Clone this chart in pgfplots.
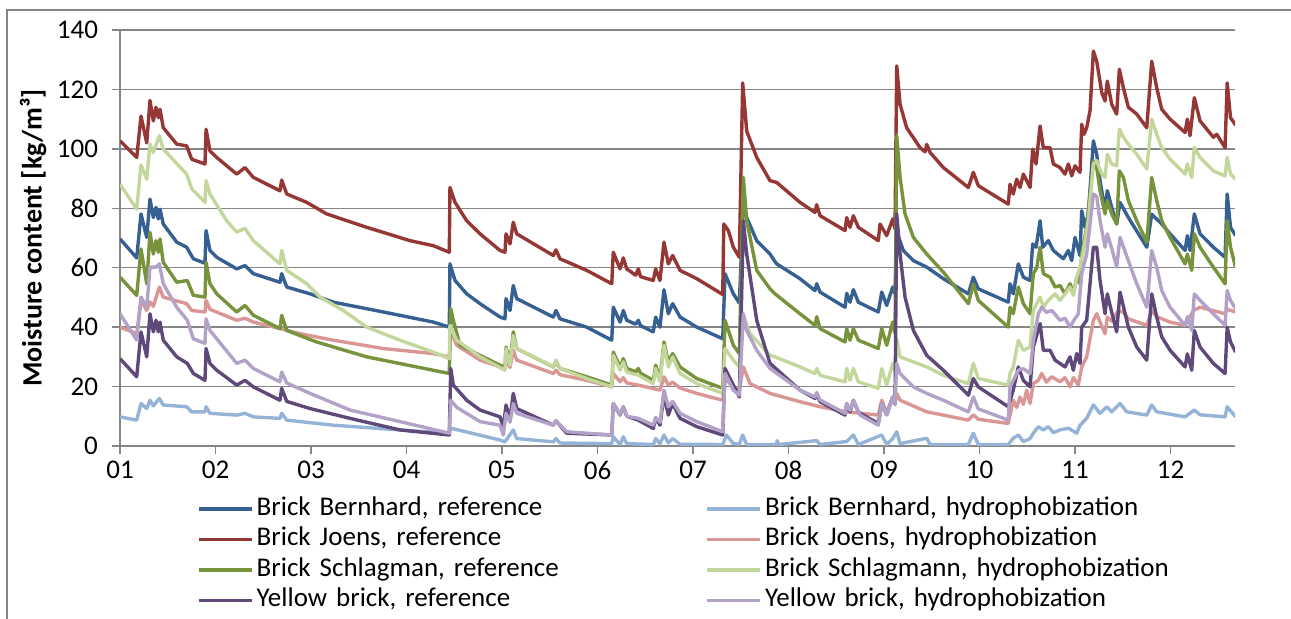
\documentclass[border=0pt]{standalone}
\usepackage{pgfplots}
\pgfplotsset{compat=1.18}
\usepackage{fontspec}
\setmainfont{Carlito}

\definecolor{bbref}{HTML}{376092}
\definecolor{bbhyd}{HTML}{95B3D7}
\definecolor{bjref}{HTML}{953735}
\definecolor{bjhyd}{HTML}{D99694}
\definecolor{bsref}{HTML}{77933C}
\definecolor{bshyd}{HTML}{C3D69B}
\definecolor{ybref}{HTML}{5F497A}
\definecolor{ybhyd}{HTML}{B3A2C7}
\definecolor{gridgray}{HTML}{868686}

\begin{document}
\begin{tikzpicture}[font=\fontsize{13.5}{16}\selectfont]
\path[use as bounding box] (-60pt,-86.5pt) rectangle (585.5pt,223pt);
\begin{axis}[
    scale only axis, width=557.5pt, height=208pt,
    xmin=1, xmax=12.675, ymin=0, ymax=140,
    xtick={1,2,...,12},
    xticklabels={01,02,03,04,05,06,07,08,09,10,11,12},
    ytick={0,20,...,140},
    yticklabel style={xshift=-3.5pt},
    axis x line*=bottom, axis y line*=left,
    axis line style={draw=gridgray, line width=0.75pt},
    tick align=outside, major tick length=4pt,
    tick style={draw=gridgray, line width=0.75pt},
    ymajorgrids, grid style={draw=gridgray, line width=0.75pt},
    /pgf/number format/assume math mode=true,
    ylabel={\fontsize{14}{16}\selectfont\bfseries Moisture content [kg/m³]},
    ylabel style={at={(axis description cs:-0.078,0.5)}, anchor=center},
    legend columns=2,
    legend style={at={(axis description cs:0.069,-0.114)}, anchor=north west,
        draw=none, fill=none, inner sep=0pt,
        nodes={text width=223pt, align=left, text height=9.2pt, text depth=3pt, inner sep=1.5pt}},
    legend image code/.code={\draw[#1, line width=1.7pt] (0pt,0pt) -- (26.5pt,0pt);},
    every axis plot/.append style={line width=1.7pt, line join=round, no markers},
]
% Brick Bernhard, reference
\addplot[bbref] coordinates {
(1.000,69.7) (1.175,63.3) (1.220,78.1) (1.280,70.2) (1.314,83.1) (1.349,76.9) (1.377,80.3) (1.401,76.4) (1.419,79.7) (1.453,74.7)
(1.594,68.6) (1.698,66.9) (1.768,63) (1.890,61.5) (1.901,72.5) (1.942,65.8) (2.013,63.5) (2.222,59.6) (2.309,60.7) (2.396,58)
(2.675,55.1) (2.693,58) (2.746,53.5) (2.990,51.2) (3.234,48.4) (3.757,45.1) (4.281,41.7) (4.448,40) (4.455,61.3) (4.508,55.7)
(4.630,51.2) (4.770,47.9) (4.979,43.4) (5.031,42.8) (5.042,49.6) (5.084,45.6) (5.118,54) (5.154,49.6) (5.537,43.4) (5.565,45.6)
(5.607,42.8) (5.887,40) (6.149,35.6) (6.165,46.7) (6.236,41.7) (6.270,45.6) (6.306,42.3) (6.400,41) (6.427,42.3) (6.450,40.5)
(6.584,38.4) (6.609,43.4) (6.654,40) (6.696,52.6) (6.741,44.5) (6.787,47.9) (6.864,43.4) (7.039,40) (7.311,36.1) (7.335,58)
(7.422,51.2) (7.485,48.1) (7.527,82) (7.562,76.9) (7.667,69.1) (7.806,64.6) (7.859,62) (7.876,61.3) (8.120,56.3) (8.277,52.3)
(8.295,54.6) (8.330,51.8) (8.592,46.7) (8.609,51.4) (8.644,48.4) (8.679,52.6) (8.731,48.4) (8.940,45.1) (8.976,51.8) (9.028,47.3)
(9.091,53.5) (9.115,51.2) (9.133,72) (9.202,65.8) (9.307,62.4) (9.447,60.2) (9.621,56.3) (9.883,51.2) (9.935,56.8) (9.987,52.9)
(10.301,48.4) (10.319,54.6) (10.353,51.2) (10.406,61.3) (10.459,56.8) (10.529,55.7) (10.557,68) (10.592,66.9) (10.634,75.8) (10.662,66.9)
(10.720,69.1) (10.773,65.8) (10.877,63) (10.930,65.8) (10.965,62.4) (11.000,70.2) (11.052,64.1) (11.070,79.2) (11.105,73.6) (11.139,78.1)
(11.192,102.7) (11.227,98.2) (11.262,89.3) (11.314,79.2) (11.338,85.9) (11.384,80.3) (11.436,74.7) (11.471,82) (11.558,76.9) (11.751,66.9)
(11.803,78) (11.908,74.7) (11.995,71.4) (12.152,65.8) (12.176,70.8) (12.204,65.8) (12.249,78.1) (12.309,71.4) (12.448,66.9) (12.571,63.5)
(12.593,84.8) (12.628,73.6) (12.681,70.8)
};
\addlegendentry{Brick Bernhard, reference}
% Brick Bernhard, hydrophobization
\addplot[bbhyd] coordinates {
(1.000,9.8) (1.175,8.7) (1.220,14.3) (1.280,12.6) (1.314,15.4) (1.349,13.5) (1.412,16) (1.453,13.8) (1.698,13.2) (1.751,11.5)
(1.890,11.5) (1.901,13.2) (1.942,11) (2.222,10.4) (2.309,11) (2.396,9.8) (2.675,9.3) (2.693,11) (2.746,8.7) (3.234,7)
(3.932,5.4) (4.448,4.3) (4.463,6) (4.979,2) (5.031,1.4) (5.118,5.4) (5.154,2.5) (5.537,1.4) (5.565,2.5) (5.607,1)
(6.149,0.8) (6.165,3.1) (6.236,0.5) (6.270,3.1) (6.306,0.8) (6.584,0.5) (6.609,2.5) (6.654,0.8) (6.696,3.7) (6.741,1)
(6.787,2.5) (6.864,0.6) (7.311,0.5) (7.350,3.7) (7.422,0.8) (7.485,0.6) (7.520,3.7) (7.562,0.5) (7.876,0.5) (7.880,1.8)
(7.900,0.5) (8.295,1.8) (8.330,0.5) (8.609,1.5) (8.679,3.7) (8.731,0.5) (8.976,3.7) (9.028,0.5) (9.091,2.5) (9.133,4.8)
(9.168,0.8) (9.447,2.6) (9.482,0.5) (9.883,0.5) (9.935,4.3) (9.987,0.5) (10.301,0.5) (10.353,2.6) (10.406,3.7) (10.459,1.5)
(10.529,2.5) (10.563,4.3) (10.616,6.5) (10.668,5.4) (10.720,6.5) (10.773,4.5) (10.843,5.4) (10.930,6) (11.018,4.3) (11.052,7)
(11.122,9.3) (11.192,13.8) (11.262,11) (11.332,13.2) (11.384,11.5) (11.471,14.3) (11.541,11.5) (11.751,10.4) (11.803,13.8) (11.855,11.5)
(12.152,9.8) (12.249,12.1) (12.309,10.5) (12.571,9.8) (12.593,13.2) (12.681,9.8)
};
\addlegendentry{Brick Bernhard, hydrophobization}
% Brick Joens, reference
\addplot[bjref] coordinates {
(1.000,102.7) (1.175,97.1) (1.220,111) (1.280,102) (1.314,116.3) (1.349,109.4) (1.377,114) (1.401,110.5) (1.419,113.3) (1.453,107.1)
(1.594,101.6) (1.698,101) (1.751,96.5) (1.890,94.9) (1.901,106.6) (1.942,99.3) (2.013,97.1) (2.222,91.5) (2.309,93.7) (2.396,90.4)
(2.675,85.9) (2.693,89.5) (2.746,84.8) (2.955,82) (3.164,78.1) (3.583,73.6) (4.037,69.1) (4.281,67.4) (4.448,65.2) (4.455,87)
(4.508,82) (4.630,75.8) (4.770,71.4) (4.979,65.8) (5.031,65.2) (5.042,71.4) (5.084,68) (5.118,75.3) (5.154,71.4) (5.537,64.1)
(5.565,66) (5.607,63) (5.887,59.1) (6.149,54.6) (6.165,65.2) (6.236,59.6) (6.270,63.3) (6.306,59.6) (6.400,57.5) (6.427,59.6)
(6.450,57) (6.584,55.7) (6.609,59.6) (6.654,55.7) (6.696,68.6) (6.741,61.3) (6.787,64.1) (6.864,59.1) (7.039,56.3) (7.311,51)
(7.322,74.7) (7.370,72.5) (7.422,66.9) (7.485,63.5) (7.520,122.2) (7.562,106) (7.667,97.1) (7.806,89.3) (7.876,88.7) (8.120,82)
(8.277,78.6) (8.295,81.2) (8.330,77.5) (8.592,72.5) (8.609,76.9) (8.644,73.6) (8.679,77.5) (8.731,73.6) (8.940,69.1) (8.958,74.7)
(9.028,70.8) (9.091,76.4) (9.115,73) (9.133,127.9) (9.168,115) (9.237,107.1) (9.377,100.4) (9.430,99) (9.447,101.5) (9.482,98.8)
(9.621,93.7) (9.883,87) (9.935,92.1) (9.987,87.6) (10.301,81.4) (10.319,88.1) (10.353,84.8) (10.389,89.8) (10.424,87) (10.459,91.5)
(10.529,87) (10.557,99.9) (10.592,94.9) (10.634,107.7) (10.668,100.4) (10.738,100.4) (10.773,94.9) (10.843,93.7) (10.895,91.5) (10.930,94.9)
(10.965,90.9) (11.000,94.3) (11.052,92.1) (11.070,108.3) (11.094,104.9) (11.122,107.1) (11.157,112.8) (11.192,132.9) (11.227,129.5) (11.280,118.9)
(11.314,116.1) (11.338,122.8) (11.384,115) (11.436,111.7) (11.464,126.8) (11.506,120.6) (11.558,114) (11.646,111.7) (11.751,107.1) (11.803,129.5)
(11.855,120.6) (11.908,113.3) (11.995,110) (12.152,105.5) (12.176,110) (12.204,104.4) (12.249,117.2) (12.309,109.4) (12.448,103.9) (12.484,104.9)
(12.571,100.4) (12.593,122.2) (12.628,110.5) (12.681,108)
};
\addlegendentry{Brick Joens, reference}
% Brick Joens, hydrophobization
\addplot[bjhyd] coordinates {
(1.000,40) (1.175,37.8) (1.220,49) (1.280,45.6) (1.314,48.5) (1.349,47) (1.412,53.5) (1.453,50.1) (1.698,47.9) (1.751,45.6)
(1.890,45.1) (1.901,49) (1.942,46) (2.222,42.3) (2.309,43) (2.396,41.7) (2.675,39.5) (2.885,37.8) (3.234,35.6) (3.757,32.8)
(4.281,31.1) (4.448,30) (4.463,38.9) (4.526,33.9) (4.770,28.9) (4.979,26.6) (5.031,26.1) (5.042,28.5) (5.084,26.5) (5.118,32.2)
(5.154,28.9) (5.537,24.4) (5.565,25.5) (5.607,24) (5.887,22.1) (6.149,19.9) (6.165,24.4) (6.236,21.6) (6.270,23) (6.306,21.2)
(6.427,20.5) (6.654,18.8) (6.696,23.3) (6.741,20.5) (6.787,21.5) (6.864,19.5) (7.039,17.7) (7.311,15.4) (7.335,22.7) (7.422,20)
(7.485,18.8) (7.527,26.6) (7.597,21) (7.806,17.7) (8.120,14.9) (8.330,13.2) (8.609,11.5) (8.940,10.4) (8.976,15.4) (9.028,11)
(9.091,16.5) (9.115,14) (9.133,17.7) (9.168,15.4) (9.447,11.5) (9.621,10.4) (9.883,8.7) (9.935,10.5) (9.987,9) (10.301,7.6)
(10.353,15.4) (10.389,13) (10.424,16.5) (10.459,14) (10.494,18.8) (10.529,14.3) (10.563,21) (10.616,22.1) (10.651,24.4) (10.700,21.5)
(10.756,23.3) (10.843,21.6) (10.895,23) (10.948,19.9) (10.982,23) (11.034,20.5) (11.070,26.6) (11.122,30) (11.192,42.3) (11.227,44.5)
(11.262,41.7) (11.314,37.8) (11.338,43.4) (11.384,42) (11.453,45.6) (11.506,45) (11.558,42.8) (11.751,40.6) (11.803,45.6) (11.855,43.5)
(11.995,41.7) (12.152,40.6) (12.176,42) (12.239,45.6) (12.309,46.7) (12.571,44.5) (12.593,46) (12.681,45.1)
};
\addlegendentry{Brick Joens, hydrophobization}
% Brick Schlagman, reference
\addplot[bsref] coordinates {
(1.000,56.8) (1.175,50.7) (1.220,66.3) (1.280,54.6) (1.314,71.9) (1.349,64.6) (1.377,69.1) (1.401,65.2) (1.419,69.7) (1.453,61.8)
(1.594,55.1) (1.705,55.7) (1.768,50.7) (1.890,50.1) (1.901,61.8) (1.942,54.6) (2.013,51.2) (2.222,45.1) (2.309,47.3) (2.396,44)
(2.675,39.5) (2.693,44) (2.746,38.9) (3.060,35) (3.583,30) (4.107,26.6) (4.448,24.4) (4.463,46.2) (4.490,42.3) (4.560,33.9)
(4.770,30.5) (4.979,27.2) (5.031,26.6) (5.042,33.3) (5.084,28.3) (5.118,38.4) (5.154,32.8) (5.537,26.6) (5.565,28.5) (5.607,26.1)
(5.887,23.3) (6.149,20.5) (6.165,31.6) (6.236,26.6) (6.270,29.4) (6.306,26.1) (6.400,25) (6.427,26.1) (6.450,24.5) (6.584,22.1)
(6.609,27.2) (6.654,22.7) (6.696,35) (6.741,28.3) (6.787,31.1) (6.864,26.6) (7.039,22.7) (7.311,19.4) (7.335,42.3) (7.422,33.9)
(7.485,31.1) (7.527,90.4) (7.562,75.8) (7.667,59.1) (7.806,52.9) (7.859,51.2) (8.120,44.5) (8.277,40.6) (8.295,43.5) (8.330,39.5)
(8.592,35) (8.609,39.5) (8.644,35.6) (8.679,39.5) (8.731,35.6) (8.940,32.8) (8.976,39.5) (9.028,33.9) (9.091,41.7) (9.115,38)
(9.133,104.4) (9.168,90.4) (9.220,78.1) (9.307,70.2) (9.447,64.6) (9.621,58.5) (9.883,47.9) (9.935,54.6) (9.987,49) (10.301,40)
(10.319,46.7) (10.353,44.5) (10.406,53.5) (10.459,47.9) (10.529,44.5) (10.563,58) (10.599,60) (10.634,66.9) (10.668,58) (10.738,56.8)
(10.791,53.5) (10.843,54) (10.895,51.2) (10.948,54.6) (10.982,51.2) (11.018,56.8) (11.052,54.6) (11.070,64.6) (11.122,73.6) (11.192,96)
(11.227,93.7) (11.262,85.9) (11.314,78.1) (11.338,82.6) (11.384,78.1) (11.436,74.7) (11.464,92.6) (11.506,90.4) (11.558,82.6) (11.646,75.8)
(11.751,68.6) (11.803,90.4) (11.855,82.6) (11.908,75.8) (11.995,70.2) (12.152,61.3) (12.176,64.6) (12.222,59.1) (12.249,71.4) (12.309,66.9)
(12.448,60.2) (12.571,54.6) (12.593,75.8) (12.628,66.9) (12.681,60.2)
};
\addlegendentry{Brick Schlagman, reference}
% Brick Schlagmann, hydrophobization
\addplot[bshyd] coordinates {
(1.000,88.1) (1.175,79.7) (1.220,94.6) (1.280,89.8) (1.314,101.6) (1.349,98.8) (1.412,104.4) (1.453,99.9) (1.698,91.5) (1.751,86.5)
(1.890,82) (1.901,89.3) (1.942,84.8) (2.117,75.8) (2.222,72) (2.309,73.2) (2.396,69.1) (2.675,61.3) (2.693,65.8) (2.746,59.1)
(2.955,54.6) (3.094,50.1) (3.338,45.6) (3.583,40) (3.932,35.6) (4.281,31.6) (4.448,29.4) (4.455,40.6) (4.526,35.6) (4.770,30)
(5.031,25.5) (5.042,32.8) (5.084,27.2) (5.118,37.2) (5.154,32.8) (5.537,26.6) (5.565,28.9) (5.607,26.1) (5.887,22.7) (6.149,19.9)
(6.165,30.5) (6.236,25.5) (6.270,28.3) (6.306,24.9) (6.427,23.8) (6.584,21) (6.609,26.1) (6.654,21.6) (6.696,33.9) (6.741,26.6)
(6.787,30) (6.864,24.4) (7.039,21) (7.311,17.7) (7.335,32.8) (7.422,28.9) (7.485,26.6) (7.527,44) (7.597,37.8) (7.806,30.5)
(7.859,30) (8.120,26.6) (8.277,24.4) (8.295,26.1) (8.330,23.8) (8.592,21.6) (8.609,26.1) (8.644,22.1) (8.679,26.1) (8.731,21.6)
(8.940,19.4) (8.976,26.1) (9.028,20.5) (9.091,27.8) (9.115,25) (9.133,36) (9.168,30) (9.447,26.6) (9.621,23.8) (9.883,21)
(9.935,27.8) (9.987,22.7) (10.301,20.5) (10.319,24.4) (10.353,26.6) (10.406,35.6) (10.459,32.2) (10.529,33.3) (10.563,45.6) (10.599,47.9)
(10.634,50.1) (10.668,46.7) (10.720,49) (10.791,51.2) (10.843,49) (10.895,51.2) (10.948,53.5) (10.982,50.7) (11.018,56.8) (11.052,60.2)
(11.087,65.8) (11.139,75.8) (11.192,94.9) (11.227,96) (11.280,91.5) (11.314,90.4) (11.338,98.2) (11.384,94.9) (11.436,94.3) (11.464,106.6)
(11.506,103.9) (11.558,101.6) (11.646,98.2) (11.751,93.2) (11.803,110) (11.855,104.9) (11.908,100.4) (11.995,96.5) (12.152,91.5) (12.176,94.9)
(12.222,90.4) (12.249,100.4) (12.309,97.1) (12.448,92.6) (12.571,90.9) (12.593,97.1) (12.628,91.5) (12.681,89.8)
};
\addlegendentry{Brick Schlagmann, hydrophobization}
% Yellow brick, reference
\addplot[ybref] coordinates {
(1.000,29.4) (1.175,23.3) (1.220,38.4) (1.280,30) (1.314,44.5) (1.349,38.4) (1.377,42.3) (1.401,38.4) (1.419,41.7) (1.453,35.6)
(1.594,30) (1.705,27.8) (1.768,24.4) (1.890,22.1) (1.901,32.8) (1.942,27.8) (2.013,25.5) (2.222,20.5) (2.309,22.1) (2.396,19.9)
(2.675,15.4) (2.693,19.4) (2.746,15) (2.990,12.6) (3.408,9.3) (3.932,5.4) (4.448,3.7) (4.463,26.1) (4.490,20.5) (4.630,15.4)
(4.770,12.1) (4.979,9.8) (5.014,6.5) (5.042,13.8) (5.084,9.3) (5.118,17.7) (5.154,12.6) (5.537,7) (5.565,8.5) (5.677,4.3)
(6.149,3.7) (6.165,14.3) (6.236,10.4) (6.270,13.2) (6.306,10) (6.427,8.7) (6.584,5.9) (6.609,9.5) (6.654,7) (6.696,17.1)
(6.741,10.4) (6.787,14.3) (6.864,9.3) (7.039,6.5) (7.311,3.7) (7.335,26.1) (7.422,20.5) (7.485,16.5) (7.527,75.8) (7.562,64.6)
(7.667,42.3) (7.806,27.8) (8.120,18.8) (8.277,16) (8.295,17.5) (8.330,14.9) (8.592,10.4) (8.609,14.3) (8.644,11.5) (8.679,15.4)
(8.731,11.5) (8.749,11) (8.940,7.6) (8.976,14.3) (9.028,10.5) (9.091,16.5) (9.115,14) (9.133,78.1) (9.168,64.6) (9.220,50.1)
(9.307,38.9) (9.447,30.5) (9.621,25.5) (9.883,17.1) (9.935,22.7) (9.987,19.9) (10.301,13.2) (10.353,18.8) (10.406,26.6) (10.459,22.1)
(10.529,19.9) (10.563,33.3) (10.634,41.2) (10.668,32.2) (10.738,32.2) (10.791,28.9) (10.895,26.6) (10.948,30) (10.982,25.5) (11.018,31.1)
(11.052,27.8) (11.070,40) (11.122,42.3) (11.192,66.9) (11.227,66.9) (11.262,55.7) (11.314,44.5) (11.338,51.2) (11.384,45) (11.436,38.4)
(11.471,51.8) (11.558,40) (11.646,33.3) (11.751,28.9) (11.803,51.2) (11.855,43.4) (11.908,36.7) (11.995,32.2) (12.152,26.6) (12.176,31)
(12.222,25.5) (12.249,38.9) (12.309,33.3) (12.448,27.8) (12.571,24.4) (12.593,40) (12.628,35) (12.681,31.6)
};
\addlegendentry{Yellow brick, reference}
% Yellow brick, hydrophobization
\addplot[ybhyd] coordinates {
(1.000,44.5) (1.175,35.6) (1.220,50.1) (1.280,46.7) (1.314,60.2) (1.377,60.2) (1.412,61.3) (1.453,54.6) (1.594,46.7) (1.705,42.3)
(1.768,36.1) (1.890,34.5) (1.901,42.8) (1.942,38.9) (2.222,27.8) (2.309,28.9) (2.396,26.1) (2.675,21.6) (2.693,24.9) (2.746,21.2)
(2.990,17.7) (3.408,12.1) (3.932,8.2) (4.448,4.3) (4.463,15.4) (4.526,13) (4.770,8.2) (4.979,7) (5.014,3.7) (5.042,11)
(5.084,8) (5.118,14.3) (5.154,11) (5.537,7) (5.565,8.5) (5.677,4.8) (6.149,3.7) (6.165,14.3) (6.236,10.4) (6.270,13.2)
(6.306,10) (6.427,9.3) (6.584,7) (6.609,9.5) (6.654,8) (6.696,18.8) (6.741,13.2) (6.787,15) (6.864,11) (7.039,8.2)
(7.311,4.8) (7.335,24.4) (7.422,18.8) (7.485,17.1) (7.527,44.5) (7.562,38.9) (7.667,32.2) (7.806,26.1) (8.120,18.8) (8.277,16.5)
(8.295,18) (8.330,15.5) (8.592,11) (8.609,14.3) (8.644,12) (8.679,15.4) (8.731,11.5) (8.749,10.4) (8.940,7) (8.976,14.3)
(9.028,10.5) (9.091,16.5) (9.115,14) (9.133,27.8) (9.168,24.4) (9.307,19.9) (9.447,17.7) (9.621,15.4) (9.883,11.5) (9.935,16.5)
(9.987,12.5) (10.301,8.7) (10.319,19.9) (10.353,22.1) (10.406,25.5) (10.459,26) (10.529,24.4) (10.563,35.6) (10.616,44.5) (10.651,46.7)
(10.700,45) (10.756,45.6) (10.843,42.3) (10.895,43) (10.948,40) (10.982,42) (11.034,44.5) (11.070,58) (11.122,64.6) (11.192,84.8)
(11.227,84) (11.262,75.8) (11.314,66.9) (11.338,71.4) (11.384,66.5) (11.436,60.2) (11.471,70.2) (11.558,62.4) (11.646,54.6) (11.751,46.7)
(11.803,65.8) (11.855,60.2) (11.908,52.3) (11.995,46.7) (12.152,40.6) (12.176,43.5) (12.222,38.9) (12.249,51.2) (12.309,49) (12.448,44.5)
(12.571,40.6) (12.593,52.3) (12.628,49) (12.681,46.2)
};
\addlegendentry{Yellow brick, hydrophobization}
\end{axis}
% chart area frame
\draw[gridgray, line width=0.75pt] (-56.5pt,-90pt) -- (-56.5pt,218pt) -- (590pt,218pt);
\end{tikzpicture}
\end{document}
